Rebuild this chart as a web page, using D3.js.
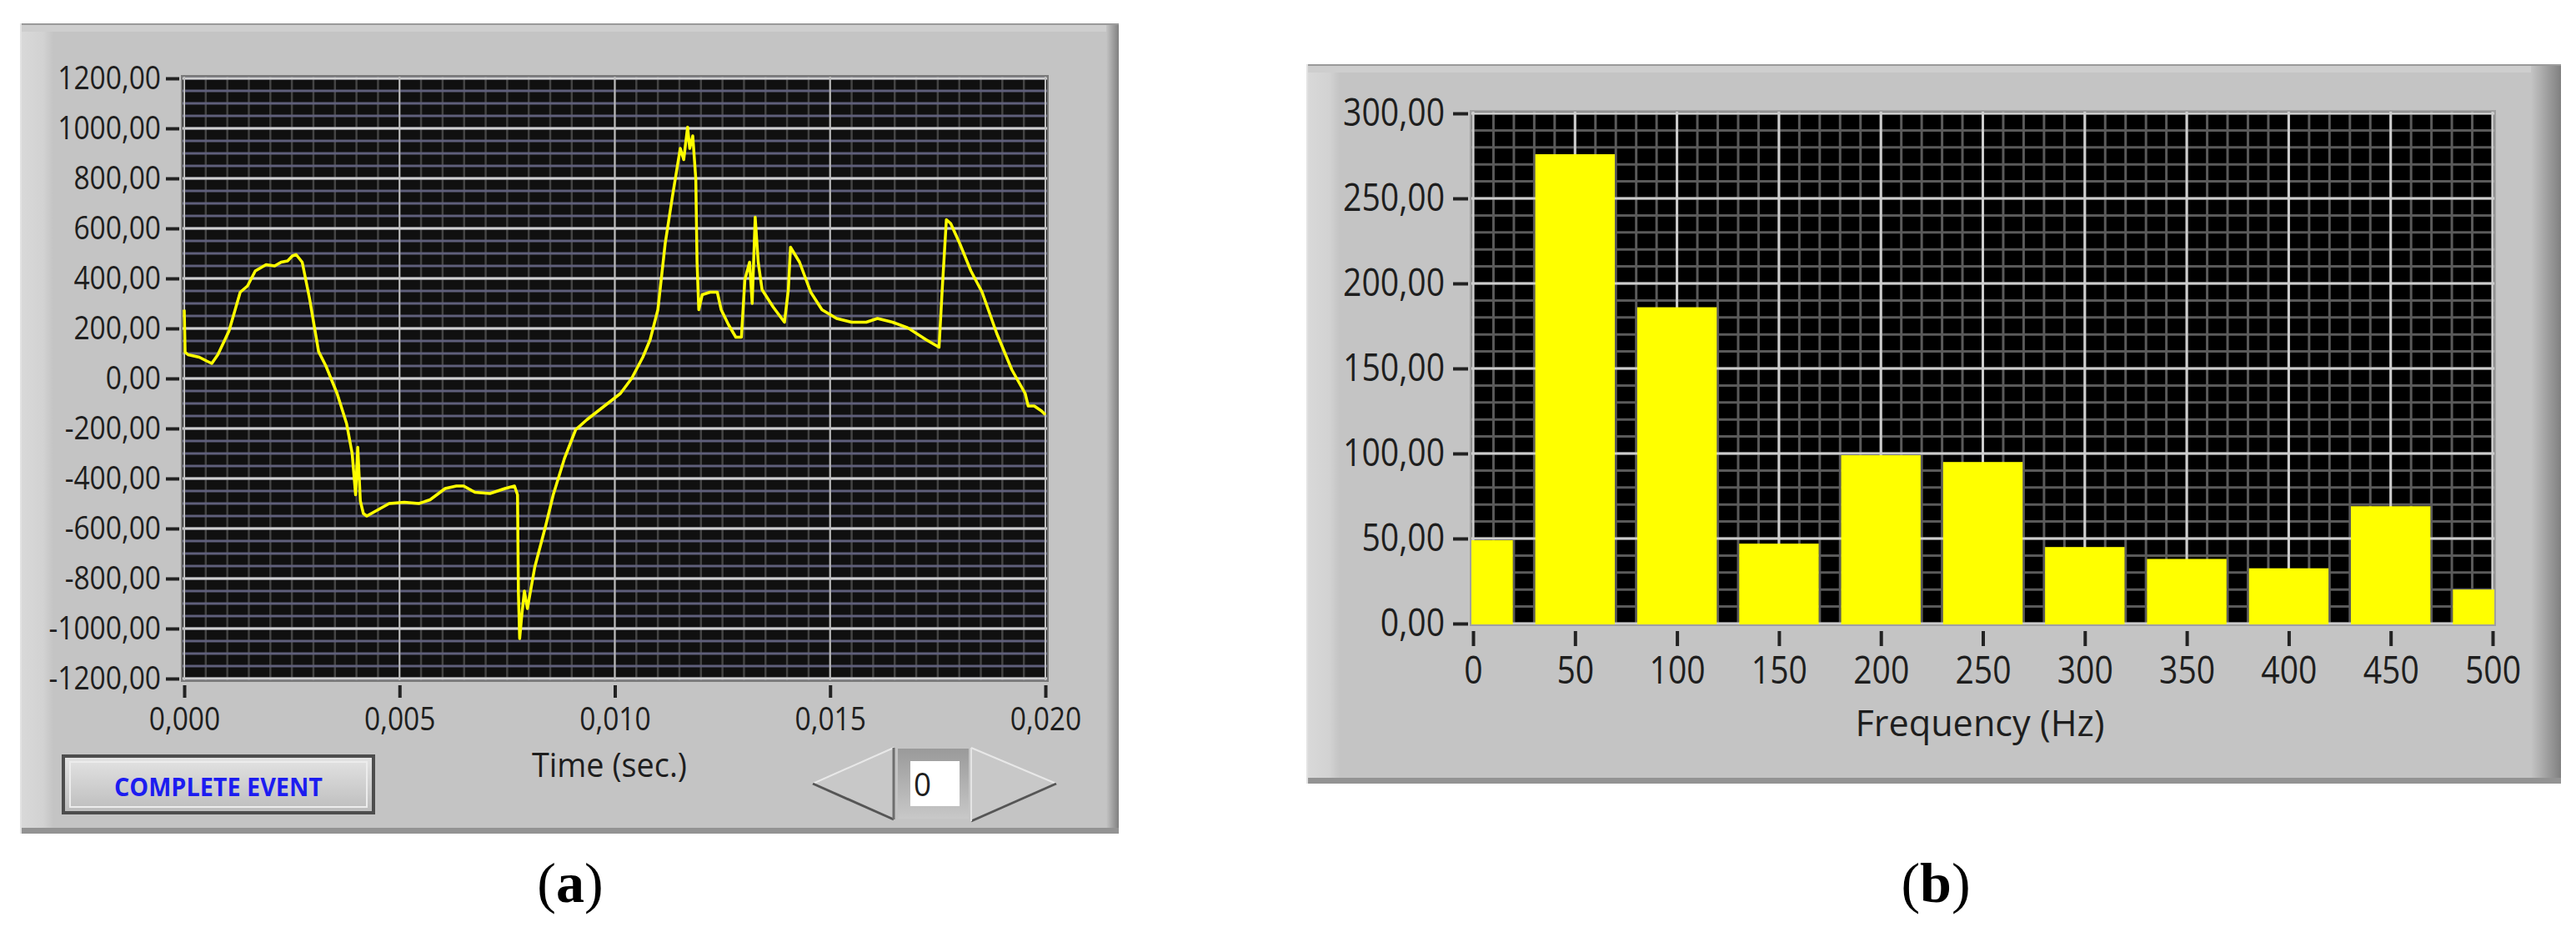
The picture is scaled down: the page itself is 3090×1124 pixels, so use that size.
<!DOCTYPE html>
<html>
<head>
<meta charset="utf-8">
<script src="https://cdn.jsdelivr.net/npm/d3@7"></script>
<style>
  body { margin: 0; background: #ffffff; }
  svg { display: block; }
  text { font-family: "Open Sans", "DejaVu Sans", sans-serif; fill: #1e1e1e; }
</style>
</head>
<body>
<script>
// ---------- data: (a) complete event waveform ----------
const timeSec = [
  0.00000, 0.00002, 0.00009, 0.00035, 0.00052, 0.00064, 0.00078, 0.00104, 0.00130, 0.00147,
  0.00165, 0.00190, 0.00210, 0.00225, 0.00240, 0.00251, 0.00260, 0.00274, 0.00291, 0.00312,
  0.00329, 0.00355, 0.00377, 0.00390, 0.00398, 0.00403, 0.00409, 0.00416, 0.00424, 0.00450,
  0.00476, 0.00511, 0.00545, 0.00571, 0.00606, 0.00632, 0.00649, 0.00675, 0.00710, 0.00745,
  0.00767, 0.00774, 0.00776, 0.00779, 0.00784, 0.00790, 0.00797, 0.00814, 0.00840, 0.00857,
  0.00883, 0.00909, 0.00935, 0.00961, 0.00987, 0.01013, 0.01039, 0.01065, 0.01082, 0.01100,
  0.01117, 0.01134, 0.01152, 0.01160, 0.01169, 0.01174, 0.01181, 0.01188, 0.01191, 0.01195,
  0.01203, 0.01221, 0.01238, 0.01247, 0.01264, 0.01281, 0.01294, 0.01302, 0.01313, 0.01319,
  0.01326, 0.01333, 0.01342, 0.01368, 0.01394, 0.01403, 0.01408, 0.01429, 0.01455, 0.01481,
  0.01515, 0.01550, 0.01584, 0.01610, 0.01645, 0.01680, 0.01723, 0.01753, 0.01760, 0.01770,
  0.01780, 0.01801, 0.01827, 0.01853, 0.01887, 0.01922, 0.01953, 0.01960, 0.01974, 0.01991,
  0.02000
];
const current = [
   275,  105,   95,   85,   70,   60,   95,  190,  345,  370,
   430,  455,  450,  465,  470,  490,  495,  465,  320,  108,
    50,  -60, -180, -300, -465, -275, -490, -540, -550, -525,
  -500, -495, -500, -485, -440, -430, -430, -455, -460, -440,
  -430, -465, -850,-1040, -945, -850, -920, -755, -585, -465,
  -320, -205, -165, -130,  -95,  -60,    0,   85,  155,  275,
   540,  730,  920,  875, 1005,  920,  970,  800,  465,  275,
   335,  345,  345,  275,  215,  165,  165,  395,  465,  300,
   645,  465,  355,  285,  225,  355,  525,  465,  345,  275,
   240,  225,  225,  240,  225,  203,  155,  125,  345,  635,
   620,  540,  430,  345,  180,   35,  -60, -110, -110, -130,
  -145
];
const timeTicks = [0, 0.005, 0.010, 0.015, 0.020];
const currentTicks = [-1200, -1000, -800, -600, -400, -200, 0, 200, 400, 600, 800, 1000, 1200];

// ---------- data: (b) harmonic spectrum ----------
const freqHz = [0, 50, 100, 150, 200, 250, 300, 350, 400, 450, 500];
const amplitude = [49, 276, 186, 47, 99, 95, 45, 38, 32.5, 69, 20];
const freqTicks = [0, 50, 100, 150, 200, 250, 300, 350, 400, 450, 500];
const ampTicks = [0, 50, 100, 150, 200, 250, 300];

const locale = d3.formatLocale({ decimal: ",", thousands: ".", grouping: [3], currency: ["", ""], minus: "-" });
const fmt2 = locale.format(".2f");
const fmt3 = locale.format(".3f");

const svg = d3.select("body").append("svg")
  .attr("width", 3090)
  .attr("height", 1124);

const defs = svg.append("defs");

function gradient(id, x2, y2, stops) {
  const g = defs.append("linearGradient").attr("id", id)
    .attr("x1", 0).attr("y1", 0).attr("x2", x2).attr("y2", y2);
  stops.forEach(s => g.append("stop").attr("offset", s[0]).attr("stop-color", s[1]));
}
gradient("leftLight", 1, 0, [[0, "#d9d9d9"], [0.7, "#d2d2d2"], [1, "#c4c4c4"]]);
gradient("rightDark", 1, 0, [[0, "#c4c4c4"], [1, "#808080"]]);
gradient("btnFill", 0, 1, [[0, "#e4e4e4"], [0.5, "#d0d0d0"], [1, "#bcbcbc"]]);
gradient("boxFill", 0, 1, [[0, "#9a9a9a"], [1, "#c8c8c8"]]);

// squeeze text horizontally like the narrow LabVIEW font
function squeeze(sel, k) {
  sel.each(function () {
    const w = this.getComputedTextLength();
    d3.select(this).attr("textLength", w * k).attr("lengthAdjust", "spacingAndGlyphs");
  });
}

function drawPanel(x0, y0, x1, y1, rightW) {
  const g = svg.append("g");
  g.append("rect").attr("x", x0).attr("y", y0).attr("width", x1 - x0).attr("height", y1 - y0)
    .attr("fill", "#c4c4c4");
  g.append("rect").attr("x", x0).attr("y", y0).attr("width", 40).attr("height", y1 - y0)
    .attr("fill", "url(#leftLight)");
  g.append("rect").attr("x", x0).attr("y", y0).attr("width", x1 - x0).attr("height", 10)
    .attr("fill", "#cecece");
  g.append("rect").attr("x", x1 - rightW).attr("y", y0).attr("width", rightW).attr("height", y1 - y0)
    .attr("fill", "url(#rightDark)");
  g.append("line").attr("x1", x0).attr("x2", x1).attr("y1", y0 + 1).attr("y2", y0 + 1)
    .attr("stroke", "#9a9a9a").attr("stroke-width", 2);
  g.append("rect").attr("x", x0).attr("y", y1 - 7).attr("width", x1 - x0).attr("height", 7)
    .attr("fill", "#939393");
  g.append("line").attr("x1", x0 + 1).attr("x2", x0 + 1).attr("y1", y0).attr("y2", y1)
    .attr("stroke", "#e2e2e2").attr("stroke-width", 2);
}

function styleAxis(g, size, k) {
  g.select(".domain").remove();
  g.selectAll(".tick line").attr("stroke", "#222").attr("stroke-width", 4);
  g.selectAll(".tick text").attr("font-size", size).attr("fill", "#1e1e1e").attr("font-family", null);
  squeeze(g.selectAll(".tick text"), k);
}

// ================= (a) =================
drawPanel(24, 28, 1342, 1000, 15);

const xA = d3.scaleLinear().domain([0, 0.020]).range([221, 1254]);
const yA = d3.scaleLinear().domain([-1200, 1200]).range([814, 94]);
const plotA = { x: 218, y: 91, w: 1039, h: 726 };

svg.append("rect").attr("x", plotA.x).attr("y", plotA.y).attr("width", plotA.w).attr("height", plotA.h)
  .attr("fill", "#101010").attr("stroke", "#7a7a7a").attr("stroke-width", 2);

defs.append("clipPath").attr("id", "clipA").append("rect")
  .attr("x", plotA.x + 1).attr("y", plotA.y + 1).attr("width", plotA.w - 2).attr("height", plotA.h - 2);

const gridA = svg.append("g").attr("clip-path", "url(#clipA)");
gridA.selectAll(".vminor").data(xA.ticks(40)).enter().append("line")
  .attr("x1", d => xA(d)).attr("x2", d => xA(d)).attr("y1", plotA.y).attr("y2", plotA.y + plotA.h)
  .attr("stroke", "#444444").attr("stroke-width", 2.5);
gridA.selectAll(".hminor").data(d3.range(-1200, 1201, 50)).enter().append("line")
  .attr("x1", plotA.x).attr("x2", plotA.x + plotA.w).attr("y1", d => yA(d)).attr("y2", d => yA(d))
  .attr("stroke", "#5f5f7b").attr("stroke-width", 3.2);
gridA.selectAll(".hmajor").data(currentTicks).enter().append("line")
  .attr("x1", plotA.x).attr("x2", plotA.x + plotA.w).attr("y1", d => yA(d)).attr("y2", d => yA(d))
  .attr("stroke", "#cfcfcf").attr("stroke-width", 3);
gridA.selectAll(".vmajor").data(timeTicks).enter().append("line")
  .attr("x1", d => xA(d)).attr("x2", d => xA(d)).attr("y1", plotA.y).attr("y2", plotA.y + plotA.h)
  .attr("stroke", "#bdbdbd").attr("stroke-width", 2);

const wave = timeSec.map((t, i) => [t, current[i]]);
gridA.append("path").datum(wave)
  .attr("fill", "none").attr("stroke", "#ffff00").attr("stroke-width", 3.5)
  .attr("stroke-linejoin", "round")
  .attr("d", d3.line().x(d => xA(d[0])).y(d => yA(d[1])));

svg.append("g").attr("transform", "translate(215,0)")
  .call(d3.axisLeft(yA).tickValues(currentTicks).tickFormat(fmt2).tickSize(16).tickPadding(6))
  .call(g => styleAxis(g, 39, 0.86));

svg.append("g").attr("transform", "translate(0,822)")
  .call(d3.axisBottom(xA).tickValues(timeTicks).tickFormat(fmt3).tickSize(15).tickPadding(11))
  .call(g => styleAxis(g, 39, 0.86));

svg.append("text").attr("x", 731).attr("y", 932).attr("text-anchor", "middle")
  .attr("font-size", 40).text("Time (sec.)")
  .attr("textLength", 186).attr("lengthAdjust", "spacingAndGlyphs");

// COMPLETE EVENT button
svg.append("rect").attr("x", 76).attr("y", 907).attr("width", 372).attr("height", 68)
  .attr("fill", "url(#btnFill)").attr("stroke", "#4d4d4d").attr("stroke-width", 4);
svg.append("rect").attr("x", 84).attr("y", 914).attr("width", 356).attr("height", 54)
  .attr("fill", "none").attr("stroke", "#ececec").attr("stroke-width", 2);
svg.append("text").attr("x", 262).attr("y", 955).attr("text-anchor", "middle")
  .attr("font-size", 31).attr("font-weight", "bold").style("fill", "#1c1cf0")
  .attr("textLength", 250).attr("lengthAdjust", "spacingAndGlyphs")
  .text("COMPLETE EVENT");

// index control with arrows
const ctl = svg.append("g");
ctl.append("polygon").attr("points", "975,940 1072,897 1072,983").attr("fill", "#c8c8c8");
ctl.append("line").attr("x1", 975).attr("y1", 940).attr("x2", 1072).attr("y2", 897)
  .attr("stroke", "#e8e8e8").attr("stroke-width", 2);
ctl.append("line").attr("x1", 975).attr("y1", 940).attr("x2", 1072).attr("y2", 983)
  .attr("stroke", "#555").attr("stroke-width", 3);
ctl.append("line").attr("x1", 1072).attr("y1", 897).attr("x2", 1072).attr("y2", 983)
  .attr("stroke", "#6e6e6e").attr("stroke-width", 3);
ctl.append("rect").attr("x", 1077).attr("y", 898).attr("width", 85).attr("height", 84)
  .attr("fill", "url(#boxFill)");
ctl.append("rect").attr("x", 1092).attr("y", 913).attr("width", 59).attr("height", 54)
  .attr("fill", "#ffffff");
ctl.append("text").attr("x", 1096).attr("y", 955).attr("font-size", 39).text("0")
  .attr("textLength", 21).attr("lengthAdjust", "spacingAndGlyphs");
ctl.append("polygon").attr("points", "1165,897 1267,940 1165,985").attr("fill", "#c8c8c8");
ctl.append("line").attr("x1", 1165).attr("y1", 897).attr("x2", 1267).attr("y2", 940)
  .attr("stroke", "#e8e8e8").attr("stroke-width", 2);
ctl.append("line").attr("x1", 1165).attr("y1", 985).attr("x2", 1267).attr("y2", 940)
  .attr("stroke", "#555").attr("stroke-width", 3);
ctl.append("line").attr("x1", 1165).attr("y1", 897).attr("x2", 1165).attr("y2", 985)
  .attr("stroke", "#e4e4e4").attr("stroke-width", 2);

// ================= (b) =================
drawPanel(1567, 77, 3072, 940, 36);

const xB = d3.scaleLinear().domain([0, 500]).range([1767, 2990]);
const yB = d3.scaleLinear().domain([0, 300]).range([748, 136]);
const plotB = { x: 1764, y: 133, w: 1229, h: 617 };

svg.append("rect").attr("x", plotB.x).attr("y", plotB.y).attr("width", plotB.w).attr("height", plotB.h)
  .attr("fill", "#000000").attr("stroke", "#a0a0a0").attr("stroke-width", 2);

defs.append("clipPath").attr("id", "clipB").append("rect")
  .attr("x", plotB.x + 1).attr("y", plotB.y + 1).attr("width", plotB.w - 2).attr("height", plotB.h - 2);

const gridB = svg.append("g").attr("clip-path", "url(#clipB)");
gridB.selectAll(".vminor").data(d3.range(0, 501, 10)).enter().append("line")
  .attr("x1", d => xB(d)).attr("x2", d => xB(d)).attr("y1", plotB.y).attr("y2", plotB.y + plotB.h)
  .attr("stroke", "#5a5a5a").attr("stroke-width", 3);
gridB.selectAll(".hminor").data(d3.range(0, 301, 10)).enter().append("line")
  .attr("x1", plotB.x).attr("x2", plotB.x + plotB.w).attr("y1", d => yB(d)).attr("y2", d => yB(d))
  .attr("stroke", "#5a5a5a").attr("stroke-width", 3);
gridB.selectAll(".vmajor").data(freqTicks).enter().append("line")
  .attr("x1", d => xB(d)).attr("x2", d => xB(d)).attr("y1", plotB.y).attr("y2", plotB.y + plotB.h)
  .attr("stroke", "#cdcdcd").attr("stroke-width", 3);
gridB.selectAll(".hmajor").data(ampTicks).enter().append("line")
  .attr("x1", plotB.x).attr("x2", plotB.x + plotB.w).attr("y1", d => yB(d)).attr("y2", d => yB(d))
  .attr("stroke", "#cdcdcd").attr("stroke-width", 3);

const halfBar = 19.5; // Hz
gridB.selectAll(".bar").data(freqHz).enter().append("rect")
  .attr("x", d => xB(d - halfBar))
  .attr("width", xB(2 * halfBar) - xB(0))
  .attr("y", (d, i) => yB(amplitude[i]))
  .attr("height", (d, i) => yB(0) - yB(amplitude[i]) + 2)
  .attr("fill", "#ffff00");

svg.append("g").attr("transform", "translate(1761,0)")
  .call(d3.axisLeft(yB).tickValues(ampTicks).tickFormat(fmt2).tickSize(18).tickPadding(10))
  .call(g => styleAxis(g, 46, 0.85));

svg.append("g").attr("transform", "translate(0,757)")
  .call(d3.axisBottom(xB).tickValues(freqTicks).tickFormat(d3.format("d")).tickSize(18).tickPadding(12))
  .call(g => styleAxis(g, 46, 0.85));

svg.append("text").attr("x", 2375).attr("y", 883).attr("text-anchor", "middle")
  .attr("font-size", 44).text("Frequency (Hz)")
  .attr("textLength", 299).attr("lengthAdjust", "spacingAndGlyphs");

// ---------- captions ----------
svg.selectAll(".caption").data([["a", 684], ["b", 2322]]).enter().append("text")
  .attr("x", d => d[1]).attr("y", 1082).attr("text-anchor", "middle")
  .attr("font-size", 68).style("font-family", "'Liberation Serif', 'DejaVu Serif', serif").style("fill", "#000")
  .each(function (d) {
    const t = d3.select(this);
    t.append("tspan").text("(");
    t.append("tspan").attr("font-weight", "bold").text(d[0]);
    t.append("tspan").text(")");
  });
</script>
</body>
</html>
